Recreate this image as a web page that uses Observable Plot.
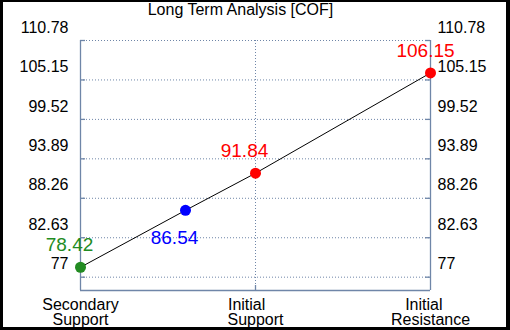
<!DOCTYPE html>
<html><head><meta charset="utf-8">
<script src="https://cdn.jsdelivr.net/npm/d3@7"></script>
<script src="https://cdn.jsdelivr.net/npm/@observablehq/plot@0.6"></script>
<style>
body{margin:0;background:#000;}
#wrap{position:relative;width:510px;height:330px;background:#000;font-family:"Liberation Sans",Arial,sans-serif;}
#wrap svg{position:absolute;left:0;top:0;background:#fff;clip-path:inset(2px 4px 3px 3px);}
#title{position:absolute;left:0;top:0;width:481px;text-align:center;font-size:16px;line-height:20px;color:#000;z-index:2;font-family:"Liberation Sans",Arial,sans-serif;}
</style></head><body><div id="wrap"><div id="title">Long Term Analysis [COF]</div></div>
<script>
// data
const pointX = [0, 0.6, 1, 2];
const pointValues = [78.42, 86.54, 91.84, 106.15];
const pointLabels = ["78.42", "86.54", "91.84", "106.15"];
const pointColors = ["#228b22", "#0000ff", "#ff0000", "#ff0000"];
const yTicks = [77, 82.63, 88.26, 93.89, 99.52, 105.15, 110.78];
const xTicks = [0, 1, 2];
const xTickLabels = ["Secondary\nSupport", "Initial\u00a0\u00a0\u00a0\u00a0\nSupport", "Initial\u00a0\u00a0\u00a0\nResistance"];
const yDomain = [75.1, 110.78];

const idx = d3.range(pointValues.length);
const axisColor = "#6f86a8";
const font = "Liberation Sans, Arial, sans-serif";
const plotH = 330 - 40 - 40;
const tickLen = 5 * (yDomain[1] - yDomain[0]) / plotH;

const chart = Plot.plot({
  width: 510,
  height: 330,
  marginLeft: 80,
  marginRight: 80,
  marginTop: 40,
  marginBottom: 40,
  style: {fontFamily: font, background: "#fff", color: "#000"},
  x: {domain: [0, 2], axis: null},
  y: {domain: yDomain, axis: null},
  color: {type: "identity"},
  marks: [
    Plot.ruleY(yTicks, {stroke: axisColor, strokeDasharray: "1,2", strokeWidth: 1}),
    Plot.ruleX([xTicks[1]], {stroke: axisColor, strokeDasharray: "1,2", strokeWidth: 1}),
    Plot.ruleY(yTicks, {x1: xTicks[0], x2: xTicks[2], insetRight: 345, stroke: axisColor, strokeWidth: 1.3}),
    Plot.ruleY(yTicks, {x1: xTicks[0], x2: xTicks[2], insetLeft: 345, stroke: axisColor, strokeWidth: 1.3}),
    Plot.ruleX([xTicks[1]], {y1: () => yDomain[0], y2: () => yDomain[0] + tickLen, stroke: axisColor, strokeWidth: 1.3}),
    Plot.ruleX([xTicks[0], xTicks[2]], {stroke: axisColor, strokeWidth: 1.3}),
    Plot.ruleY([yDomain[0]], {stroke: axisColor, strokeWidth: 1.3}),
    Plot.axisY(yTicks, {anchor: "left", tickSize: 0, tickPadding: 12, dy: -13, fontSize: 16, tickFormat: d => String(d), fill: "#000"}),
    Plot.axisY(yTicks, {anchor: "right", tickSize: 0, tickPadding: 7, dy: -13, fontSize: 16, tickFormat: d => String(d), fill: "#000"}),
    Plot.axisX(xTicks, {anchor: "bottom", tickSize: 0, tickPadding: 8, fontSize: 16, lineHeight: 0.97, tickFormat: i => xTickLabels[i], fill: "#000"}),
    Plot.line(idx, {x: i => pointX[i], y: i => pointValues[i], stroke: "#000", strokeWidth: 1}),
    Plot.dot(idx, {x: i => pointX[i], y: i => pointValues[i], fill: i => pointColors[i], r: 5.5}),
    Plot.text(idx.filter(i => i === 0 || i === 2), {x: i => pointX[i], y: i => pointValues[i], text: i => pointLabels[i], fill: i => pointColors[i], fontSize: 19, dx: -11, dy: -22}),
    Plot.text(idx.filter(i => i === 3), {x: i => pointX[i], y: i => pointValues[i], text: i => pointLabels[i], fill: i => pointColors[i], fontSize: 19, dx: -5, dy: -22}),
    Plot.text(idx.filter(i => i === 1), {x: i => pointX[i], y: i => pointValues[i], text: i => pointLabels[i], fill: i => pointColors[i], fontSize: 19, dx: -11, dy: 28})
  ]
});
document.getElementById("wrap").appendChild(chart);
</script>
</body></html>
